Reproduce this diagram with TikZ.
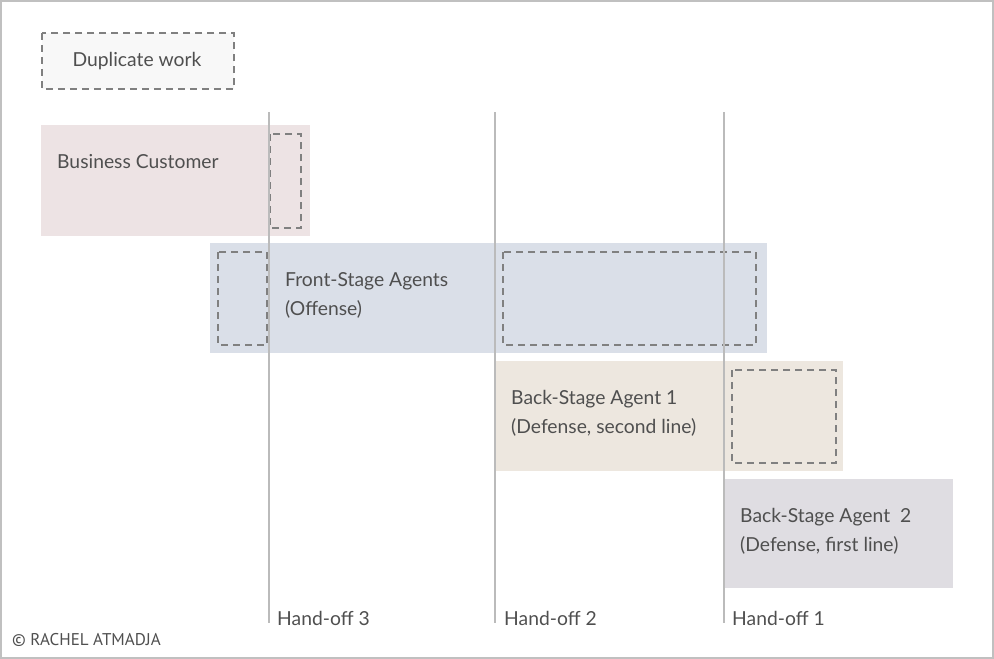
\documentclass[tikz,border=0pt]{standalone}
\usepackage{fontspec}
\setmainfont{Lato}
\newfontfamily\copyfont{PT Sans}
\definecolor{txt}{HTML}{4F4F4F}
\definecolor{frame}{HTML}{C0C0C0}
\definecolor{vline}{HTML}{BBBBBB}
\definecolor{dash}{HTML}{808080}
\definecolor{dupfill}{HTML}{F8F8F8}
\definecolor{custfill}{HTML}{EDE3E4}
\definecolor{frontfill}{HTML}{DADFE8}
\definecolor{back1fill}{HTML}{EDE7DF}
\definecolor{back2fill}{HTML}{DFDDE2}
\tikzset{
  lane/.style={inner sep=0pt, outer sep=0pt},
  dupbox/.style={draw=dash, line width=1.8pt, dash pattern=on 7pt off 5pt},
  label/.style={text=txt, font=\fontsize{19.3}{29}\selectfont, align=left, anchor=north west, inner sep=0pt},
  handoff/.style={draw=vline, line width=1.6pt},
}
\begin{document}
\begin{tikzpicture}[x=1pt,y=-1pt]
\useasboundingbox (0,0) rectangle (994,659);
\draw[frame, line width=1.5pt] (1,1) rectangle (993,658);
% legend
\draw[dupbox, fill=dupfill] (42,33) rectangle (234,89);
\node[text=txt, font=\fontsize{19.3}{23}\selectfont] (legend) at (137,61.5) {Duplicate work};
% lanes
\fill[custfill] (41,125) rectangle (310,236);
\fill[frontfill] (210,243) rectangle (767,353);
\fill[back1fill] (495,361) rectangle (843,471);
\fill[back2fill] (725,479) rectangle (953,588);
% duplicate work boxes
\draw[dupbox] (270,134) rectangle (301,228);
\draw[dupbox] (218,252) rectangle (267,345);
\draw[dupbox] (503,252) rectangle (756,345);
\draw[dupbox] (732,370) rectangle (836,463);
% labels
\node[label] (cust) at (57,154) {Business Customer};
\node[label] (front) at (285,272) {Front-Stage Agents\\(Offense)};
\node[label] (back1) at (511,390) {Back-Stage Agent 1\\(Defense, second line)};
\node[label] (back2) at (740,508) {Back-Stage Agent~~2\\(Defense, first line)};
% hand-off lines
\coordinate (h3t) at (269,112); \coordinate (h3b) at (269,623);
\coordinate (h2t) at (495,112); \coordinate (h2b) at (495,623);
\coordinate (h1t) at (724,112); \coordinate (h1b) at (724,623);
\draw[handoff] (h3t) -- (h3b);
\draw[handoff] (h2t) -- (h2b);
\draw[handoff] (h1t) -- (h1b);
\node[label] (ho3) at (277,611) {Hand-off 3};
\node[label] (ho2) at (504,611) {Hand-off 2};
\node[label] (ho1) at (732,611) {Hand-off 1};
\node[text=txt, font=\copyfont\fontsize{17}{20}\selectfont, anchor=west, inner sep=0pt] (copy) at (12,640) {© RACHEL ATMADJA};
\end{tikzpicture}
\end{document}
